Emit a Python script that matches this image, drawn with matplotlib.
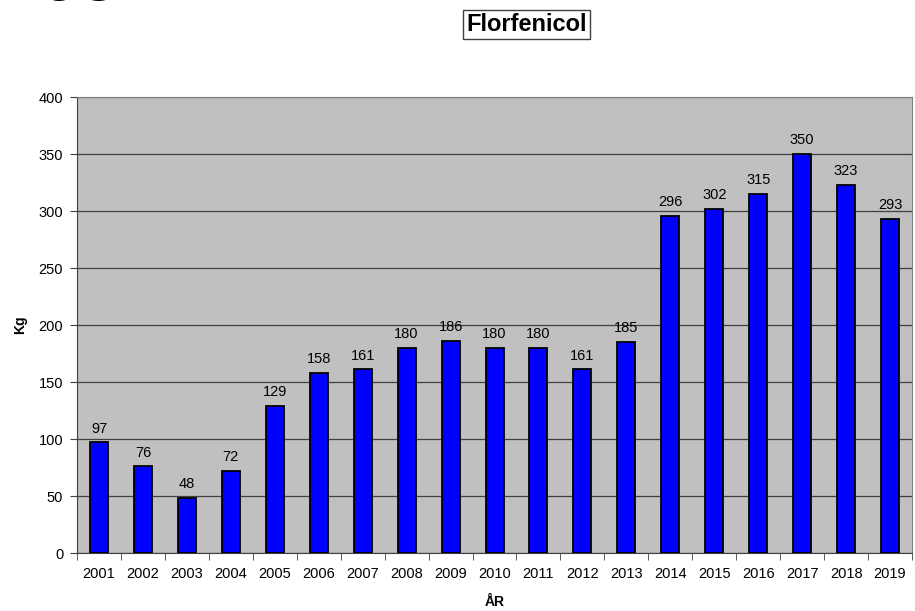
import numpy as np
import matplotlib.pyplot as plt

plt.rcParams['font.family'] = ['Liberation Sans', 'DejaVu Sans']

years = [str(y) for y in range(2001, 2020)]
kg = [97, 76, 48, 72, 129, 158, 161, 180, 186, 180, 180, 161, 185,
      296, 302, 315, 350, 323, 293]

fig = plt.figure(figsize=(9.15, 6.11), dpi=100)
ax = fig.add_axes([0.0842, 0.0949, 0.9125, 0.7463])

x = np.arange(len(years))
ax.set_facecolor('#c0c0c0')
ax.bar(x, kg, width=0.41, color='#0000ff', edgecolor='black', linewidth=1.3, zorder=3)
for xi, v in zip(x, kg):
    ax.text(xi, v + 6, str(v), ha='center', va='bottom', fontsize=10.5)

ax.set_ylim(0, 400)
ax.set_xlim(-0.5, len(years) - 0.5)
ax.set_yticks(range(0, 401, 50))
ax.yaxis.grid(True, color='#404040', linewidth=0.9, zorder=1)
ax.set_xticks(x)
ax.set_xticklabels(years)
ax.set_xticks(np.arange(-0.5, len(years), 1), minor=True)
ax.tick_params(axis='x', which='major', length=0, pad=10, labelsize=10.5)
ax.tick_params(axis='x', which='minor', length=5, color='#404040')
ax.tick_params(axis='y', length=5, pad=5, color='#404040', labelsize=10.5)
for s in ['top', 'right']:
    ax.spines[s].set_color('#808080')
for s in ['left', 'bottom']:
    ax.spines[s].set_color('#404040')

ax.set_ylabel('Kg', fontweight='bold', fontsize=10, labelpad=8)
ax.set_xlabel('ÅR', fontweight='bold', fontsize=10, labelpad=10)

fig.text(0.5754, 0.96, 'Florfenicol', ha='center', va='center', fontsize=17,
         fontweight='bold',
         bbox=dict(facecolor='white', edgecolor='#404040', boxstyle='square,pad=0.12'))

# cut off heading at top-left
fig.text(-0.005, 0.9995, 'ricol', ha='left', va='baseline', fontsize=56)

fig.savefig('out.png', dpi=100)
